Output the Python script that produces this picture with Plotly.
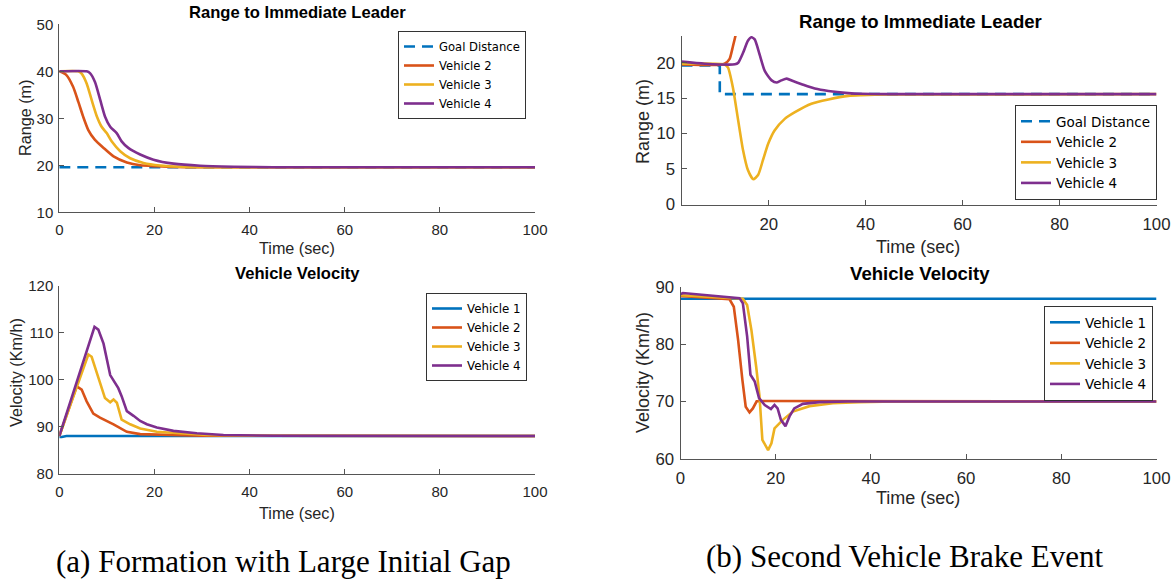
import plotly.graph_objects as go

W, H = 1172, 583
C1, C2, C3, C4 = "#0072BD", "#D95319", "#EDB120", "#7E2F8E"

# ---------------- (a) Formation with Large Initial Gap ----------------
# Range to immediate leader
a_goal_t = [0, 100]
a_goal_r = [19.6, 19.6]
a_r2_t = [0, 1.5, 2.9, 4.0, 5.0, 6.1, 7.5, 9.3, 11.4, 14.2, 17.0, 20.5, 24.0, 30, 40, 100]
a_r2 = [40, 39.2, 36.7, 33.5, 30.4, 27.5, 25.4, 23.7, 21.9, 20.6, 20.0, 19.8, 19.65, 19.6, 19.6, 19.6]
a_r3_t = [0, 4.0, 4.7, 5.75, 6.8, 7.9, 8.9, 10.0, 11.0, 12.8, 14.9, 17.7, 21.2, 25.4, 32, 40, 100]
a_r3 = [40, 40, 39.5, 37.4, 33.9, 30.4, 28.2, 26.8, 25.1, 23.0, 21.5, 20.5, 19.95, 19.7, 19.6, 19.6, 19.6]
a_r4_t = [0, 5.75, 6.45, 7.5, 8.6, 9.6, 10.7, 12.1, 13.1, 14.5, 17.0, 19.8, 24.0, 29.6, 36.6, 45, 100]
a_r4 = [40, 40, 39.6, 37.7, 33.9, 30.4, 28.2, 26.8, 25.1, 23.7, 22.3, 21.2, 20.35, 19.9, 19.7, 19.6, 19.6]

# Vehicle velocity
a_v1_t = [0, 0.5, 1.5, 100]
a_v1 = [87.8, 87.8, 88.0, 88.0]
a_v2_t = [0, 3.65, 4.7, 5.75, 7.15, 8.55, 11.4, 14.2, 17.0, 22.6, 30, 100]
a_v2 = [88.0, 98.6, 97.9, 95.4, 92.8, 91.9, 90.5, 88.9, 88.4, 88.2, 88.05, 88.0]
a_v3_t = [0, 6.1, 6.8, 8.2, 9.6, 10.7, 11.4, 12.1, 13.1, 14.9, 17.0, 20.5, 25.4, 31.0, 40, 100]
a_v3 = [88.0, 105.4, 104.9, 100.7, 96.1, 95.2, 95.8, 95.1, 91.5, 90.5, 89.6, 88.9, 88.5, 88.2, 88.05, 88.0]
a_v4_t = [0, 7.4, 8.2, 9.3, 10.7, 11.4, 12.4, 13.1, 14.2, 15.6, 17.0, 18.4, 20.5, 24.0, 28.9, 34.5, 45, 100]
a_v4 = [88.0, 111.3, 110.7, 107.7, 101.0, 99.9, 98.2, 96.5, 93.3, 92.3, 91.2, 90.5, 89.8, 89.1, 88.6, 88.2, 88.05, 88.0]

# ---------------- (b) Second Vehicle Brake Event ----------------
b_goal_t = [2, 9.9, 9.9, 100]
b_goal_r = [19.6, 19.6, 15.55, 15.55]
b_r2_t = [2, 10.0, 10.9, 11.9, 12.6, 13.1, 14.0, 16.0, 20.0, 40.0, 100]
b_r2 = [19.75, 19.7, 19.86, 20.5, 22.3, 23.7, 27.0, 36.0, 58.0, 158.0, 458.0]
b_r3_t = [2, 10.9, 11.6, 12.6, 13.7, 14.7, 15.7, 16.8, 17.8, 18.8, 19.9, 21.2, 23.3, 25.4, 28.8, 32.3, 36.4, 39.1, 45, 100]
b_r3 = [19.85, 19.75, 19.3, 16.5, 11.8, 7.6, 4.8, 3.5, 4.1, 6.2, 8.55, 10.4, 12.05, 13.0, 14.2, 14.8, 15.3, 15.4, 15.5, 15.55]
b_r4_t = [2, 6.8, 13.0, 13.7, 14.7, 15.7, 16.4, 17.1, 18.1, 19.2, 20.6, 21.6, 22.6, 23.7, 25.0, 26.8, 29.5, 32.3, 36.4, 39.1, 45, 100]
b_r4 = [20.15, 19.86, 19.77, 20.0, 21.4, 23.1, 23.6, 23.3, 21.2, 18.8, 17.5, 17.2, 17.5, 17.75, 17.4, 16.96, 16.35, 16.0, 15.7, 15.6, 15.55, 15.55]

b_v1_t = [0, 100]
b_v1 = [88.0, 88.0]
b_v2_t = [0, 10.3, 11.2, 12.1, 13.0, 13.7, 14.5, 15.2, 16.0, 17.3, 100]
b_v2 = [88.5, 87.9, 86.6, 80.8, 73.8, 69.1, 68.1, 68.8, 70.05, 70.1, 70.0]
b_v3_t = [0, 13.1, 14.0, 14.9, 15.9, 16.6, 17.2, 17.7, 18.4, 19.1, 19.75, 21.5, 23.6, 27.1, 32.0, 37.5, 45, 100]
b_v3 = [88.6, 88.0, 86.9, 82.5, 76.1, 70.9, 63.3, 62.6, 61.5, 62.7, 65.3, 66.8, 68.25, 69.2, 69.7, 69.9, 70.0, 70.0]
b_v4_t = [0, 0.5, 12.4, 13.1, 14.0, 14.7, 15.6, 16.5, 17.7, 19.0, 19.75, 20.4, 21.1, 22.05, 22.9, 23.9, 25.7, 29.2, 35, 100]
b_v4 = [88.8, 89.0, 88.1, 87.2, 81.4, 74.7, 73.5, 70.6, 69.4, 68.7, 69.4, 68.8, 66.8, 65.7, 67.4, 68.8, 69.6, 69.9, 70.0, 70.0]


def px(x):
    return x / W


def py(y):
    return 1 - y / H


fig = go.Figure()
LW = 2.6


def add(t, v, name, color, ax, legend, dash=None, shape="linear"):
    fig.add_trace(go.Scatter(
        x=t, y=v, name=name, mode="lines",
        line=dict(color=color, width=LW, dash=dash, shape=shape, smoothing=0.6),
        xaxis="x" + ax, yaxis="y" + ax, legend=legend, showlegend=True,
        hoverinfo="skip"))


DASH = "11px,7px"
# (a) range
add(a_goal_t, a_goal_r, "Goal Distance", C1, "", "legend", dash=DASH)
add(a_r2_t, a_r2, "Vehicle 2", C2, "", "legend", shape="spline")
add(a_r3_t, a_r3, "Vehicle 3", C3, "", "legend", shape="spline")
add(a_r4_t, a_r4, "Vehicle 4", C4, "", "legend", shape="spline")
# (b) range
add(b_goal_t, b_goal_r, "Goal Distance", C1, "2", "legend2", dash=DASH)
add(b_r2_t, b_r2, "Vehicle 2", C2, "2", "legend2", shape="spline")
add(b_r3_t, b_r3, "Vehicle 3", C3, "2", "legend2", shape="spline")
add(b_r4_t, b_r4, "Vehicle 4", C4, "2", "legend2", shape="spline")
# (a) velocity
add(a_v1_t, a_v1, "Vehicle 1", C1, "3", "legend3")
add(a_v2_t, a_v2, "Vehicle 2", C2, "3", "legend3")
add(a_v3_t, a_v3, "Vehicle 3", C3, "3", "legend3")
add(a_v4_t, a_v4, "Vehicle 4", C4, "3", "legend3")
# (b) velocity
add(b_v1_t, b_v1, "Vehicle 1", C1, "4", "legend4")
add(b_v2_t, b_v2, "Vehicle 2", C2, "4", "legend4")
add(b_v3_t, b_v3, "Vehicle 3", C3, "4", "legend4")
add(b_v4_t, b_v4, "Vehicle 4", C4, "4", "legend4")

AX_COL = "#555555"
TXT = "#262626"
SANS = "Liberation Sans, Arial, sans-serif"


def xax(dom, rng, anchor, tickvals, fs):
    return dict(domain=dom, range=rng, anchor=anchor, showgrid=False, zeroline=False,
                showline=True, linecolor=AX_COL, linewidth=1, ticks="inside", ticklen=5,
                tickcolor=AX_COL, tickvals=tickvals,
                tickfont=dict(family=SANS, size=fs, color=TXT),
                ticklabelstandoff=4, fixedrange=True, automargin=False)


def yax(dom, rng, anchor, tickvals, fs):
    return dict(domain=dom, range=rng, anchor=anchor, showgrid=False, zeroline=False,
                showline=True, linecolor=AX_COL, linewidth=1, ticks="inside", ticklen=5,
                tickcolor=AX_COL, tickvals=tickvals,
                tickfont=dict(family=SANS, size=fs, color=TXT),
                ticklabelstandoff=2, fixedrange=True, automargin=False)


FA, FB = 15, 16.8   # tick font sizes for (a) and (b)
xt = [0, 20, 40, 60, 80, 100]
layout = dict(
    width=W, height=H, autosize=False,
    margin=dict(l=0, r=0, t=0, b=0, pad=0, autoexpand=False),
    paper_bgcolor="white", plot_bgcolor="white",
    xaxis=xax([px(59.3), px(535)], [0, 100], "y", xt, FA),
    yaxis=yax([py(212.3), py(24.3)], [10, 50], "x", [10, 20, 30, 40, 50], FA),
    xaxis2=xax([px(681.5), px(1156.5)], [2, 100], "y2", [20, 40, 60, 80, 100], FB),
    yaxis2=yax([py(205), py(36)], [-0.14, 23.78], "x2", [0, 5, 10, 15, 20], FB),
    xaxis3=xax([px(59.3), px(535)], [0, 100], "y3", xt, FA),
    yaxis3=yax([py(473.5), py(286)], [80, 120], "x3", [80, 90, 100, 110, 120], FA),
    xaxis4=xax([px(680.5), px(1156.5)], [0, 100], "y4", xt, FB),
    yaxis4=yax([py(458.7), py(287.3)], [60, 90], "x4", [60, 70, 80, 90], FB),
)


def leg(xr, yt, fs):
    return dict(x=px(xr), y=py(yt), xanchor="right", yanchor="top", xref="paper", yref="paper",
                bgcolor="white", bordercolor="#333333", borderwidth=1,
                font=dict(family="DejaVu Sans, Liberation Sans, sans-serif", size=fs, color="#000000"),
                tracegroupgap=0, itemwidth=30, itemclick=False, itemdoubleclick=False)


layout["legend"] = leg(526, 31, 11.6)
layout["legend2"] = leg(1157, 105, 13.5)
layout["legend3"] = leg(527, 293, 11.8)
layout["legend4"] = leg(1153, 306, 13.5)

fig.update_layout(**layout)

ann = []


def text(x, y, s, size=15, angle=0, family=SANS, color=TXT):
    ann.append(dict(x=px(x), y=py(y), xref="paper", yref="paper", text=s, showarrow=False,
                    xanchor="center", yanchor="middle", textangle=angle,
                    font=dict(family=family, size=size, color=color)))


# subplot titles
text(297, 12, "<b>Range to Immediate Leader</b>", 16.6, color="#000000")
text(920, 22, "<b>Range to Immediate Leader</b>", 18.6, color="#000000")
text(297, 273, "<b>Vehicle Velocity</b>", 16.6, color="#000000")
text(920, 273, "<b>Vehicle Velocity</b>", 18.6, color="#000000")
# axis titles
text(297, 248, "Time (sec)", 16.2)
text(918, 247, "Time (sec)", 18)
text(297, 513, "Time (sec)", 16.2)
text(918, 498, "Time (sec)", 18)
text(25, 118, "Range (m)", 16.2, angle=-90)
text(643, 122, "Range (m)", 18, angle=-90)
text(16, 373, "Velocity (Km/h)", 16.2, angle=-90)
text(643, 373, "Velocity (Km/h)", 18, angle=-90)
# captions
SERIF = "Liberation Serif, Times New Roman, serif"
text(283, 561, "(a) Formation with Large Initial Gap", 31, family=SERIF, color="#000000")
text(905, 556, "(b) Second Vehicle Brake Event", 31, family=SERIF, color="#000000")

fig.update_layout(annotations=ann)

html = fig.to_html(full_html=True, include_plotlyjs=True,
                   config={"displayModeBar": False, "responsive": False})
html = html.replace("<head>", "<head><style>html,body{margin:0;padding:0;overflow:hidden;}</style>", 1)
with open("out.html", "w", encoding="utf-8") as f:
    f.write(html)
